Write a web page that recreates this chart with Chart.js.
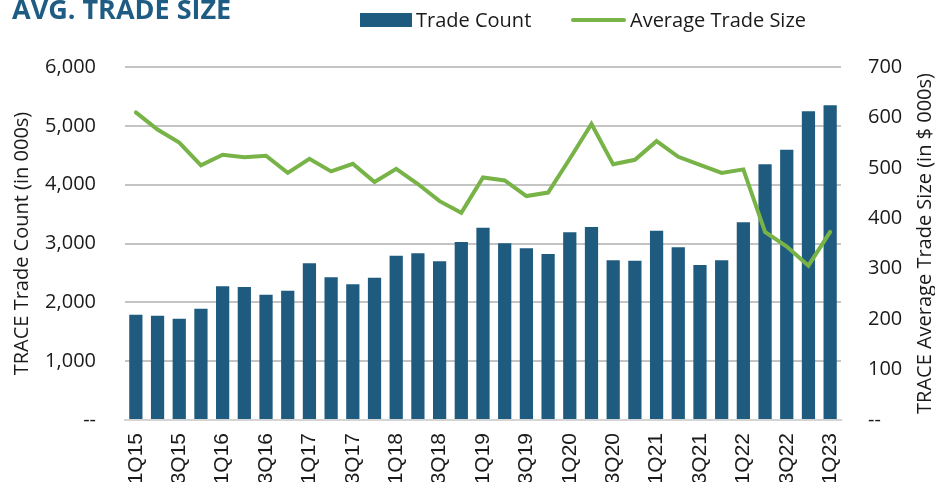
<!DOCTYPE html>
<html>
<head>
<meta charset="utf-8">
<script src="https://cdn.jsdelivr.net/npm/chart.js@4/dist/chart.umd.min.js"></script>
<style>
  html, body { margin: 0; padding: 0; background: #ffffff; overflow: hidden; }
  #wrap { position: relative; width: 935px; height: 482px; }
</style>
</head>
<body>
<div id="wrap"><canvas id="chart" width="935" height="482"></canvas></div>
<script>
// Quarters 1Q15 .. 1Q23
const quarters = [
  "1Q15", "2Q15", "3Q15", "4Q15",
  "1Q16", "2Q16", "3Q16", "4Q16",
  "1Q17", "2Q17", "3Q17", "4Q17",
  "1Q18", "2Q18", "3Q18", "4Q18",
  "1Q19", "2Q19", "3Q19", "4Q19",
  "1Q20", "2Q20", "3Q20", "4Q20",
  "1Q21", "2Q21", "3Q21", "4Q21",
  "1Q22", "2Q22", "3Q22", "4Q22",
  "1Q23"
];

// TRACE trade count (in 000s)
const tradeCount = [
  1790, 1773, 1722, 1892,
  2272, 2261, 2130, 2198,
  2663, 2425, 2306, 2419,
  2793, 2833, 2697, 3026,
  3269, 3003, 2918, 2821,
  3190, 3281, 2714, 2708,
  3218, 2935, 2635, 2714,
  3360, 4346, 4595, 5247,
  5349
];

// TRACE average trade size (in $ 000s)
const avgTradeSize = [
  610, 576, 550, 505,
  526, 521, 524, 490,
  518, 493, 508, 472,
  498, 468, 434, 411,
  481, 475, 444, 451,
  518, 587, 507, 516,
  553, 522, 506, 490,
  497, 373, 344, 306,
  373
];

const chartTitle = "AVG. TRADE SIZE";
const leftAxisTitle = "TRACE Trade Count (in 000s)";
const rightAxisTitle = "TRACE Average Trade Size (in $ 000s)";

const BLUE = "#1f5b7f";
const GREEN = "#77b347";
const FONT = "'Open Sans', sans-serif";

// Title, legend and right axis title drawn on the canvas
const decorations = {
  id: "decorations",
  afterDraw(chart) {
    const ctx = chart.ctx;
    const ds = chart.data.datasets;
    ctx.save();

    // Title (cropped at the top in the source)
    ctx.fillStyle = "#1f5c84";
    ctx.font = "bold 27px " + FONT;
    ctx.textBaseline = "alphabetic";
    ctx.textAlign = "left";
    ctx.fillText(chartTitle, 12, 19);

    // Legend
    ctx.font = "20px " + FONT;
    ctx.fillStyle = ds[0].backgroundColor;
    ctx.fillRect(360, 13, 52, 14);
    ctx.fillStyle = "#1a1a1a";
    ctx.fillText(ds[0].label, 416, 27);

    ctx.strokeStyle = ds[1].borderColor;
    ctx.lineWidth = 4;
    ctx.lineCap = "round";
    ctx.beginPath();
    ctx.moveTo(573, 20);
    ctx.lineTo(624, 20);
    ctx.stroke();
    ctx.fillText(ds[1].label, 630, 27);

    // Right axis title, reading bottom to top
    const area = chart.chartArea;
    ctx.translate(925, (area.top + area.bottom) / 2);
    ctx.rotate(-Math.PI / 2);
    ctx.textAlign = "center";
    ctx.textBaseline = "middle";
    ctx.fillStyle = "#1a1a1a";
    ctx.fillText(rightAxisTitle, 0, 0);

    ctx.restore();
  }
};

const ctx = document.getElementById("chart").getContext("2d");

new Chart(ctx, {
  type: "bar",
  data: {
    labels: quarters,
    datasets: [
      {
        type: "bar",
        label: "Trade Count",
        data: tradeCount,
        backgroundColor: BLUE,
        borderWidth: 0,
        barPercentage: 0.61,
        categoryPercentage: 1.0,
        yAxisID: "y",
        order: 1
      },
      {
        type: "line",
        label: "Average Trade Size",
        data: avgTradeSize,
        borderColor: GREEN,
        backgroundColor: GREEN,
        borderWidth: 4,
        borderCapStyle: "round",
        borderJoinStyle: "miter",
        pointRadius: 0,
        tension: 0,
        fill: false,
        yAxisID: "y1",
        order: 0
      }
    ]
  },
  options: {
    responsive: false,
    animation: false,
    layout: {
      padding: { top: 67, left: 0, right: 0, bottom: 0 }
    },
    plugins: {
      legend: { display: false },
      tooltip: { enabled: false },
      title: { display: false }
    },
    scales: {
      x: {
        grid: { display: false, drawTicks: false },
        border: { display: true, color: "#d4d4d4", width: 2 },
        ticks: {
          color: "#1a1a1a",
          font: { family: "'Liberation Sans', Arial, sans-serif", size: 21 },
          minRotation: 90,
          maxRotation: 90,
          autoSkip: false,
          padding: 13,
          callback: function (value, index) {
            return index % 2 === 0 ? this.getLabelForValue(value) : "";
          }
        },
        afterFit: (scale) => { scale.height = 62; }
      },
      y: {
        position: "left",
        min: 0,
        max: 6000,
        grid: {
          color: "#c4c4c4",
          lineWidth: 2,
          drawTicks: false
        },
        border: { display: false },
        ticks: {
          stepSize: 1000,
          color: "#1a1a1a",
          font: { family: FONT, size: 20 },
          padding: 29,
          callback: (value) => value === 0 ? "--" : value.toLocaleString("en-US")
        },
        title: {
          display: true,
          text: leftAxisTitle,
          color: "#1a1a1a",
          font: { family: FONT, size: 20 },
          padding: { top: 10, bottom: 0 }
        },
        afterFit: (scale) => { scale.width = 125; }
      },
      y1: {
        position: "right",
        min: 0,
        max: 700,
        grid: { display: false, drawTicks: false },
        border: { display: false },
        ticks: {
          stepSize: 100,
          color: "#1a1a1a",
          font: { family: FONT, size: 20 },
          padding: 27,
          callback: (value) => value === 0 ? "--" : value.toLocaleString("en-US")
        },
        afterFit: (scale) => { scale.width = 94; }
      }
    }
  },
  plugins: [decorations]
});
</script>
</body>
</html>
